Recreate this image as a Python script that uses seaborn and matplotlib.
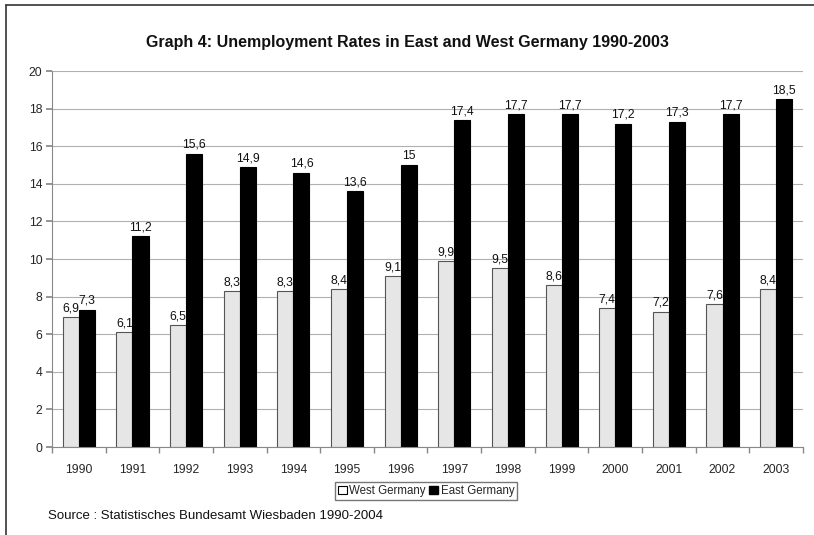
import matplotlib
matplotlib.use("Agg")
import matplotlib.pyplot as plt
from matplotlib.lines import Line2D
from matplotlib.patches import Patch
import seaborn as sns
import pandas as pd

years = ["1990", "1991", "1992", "1993", "1994", "1995", "1996",
         "1997", "1998", "1999", "2000", "2001", "2002", "2003"]
west = [6.9, 6.1, 6.5, 8.3, 8.3, 8.4, 9.1, 9.9, 9.5, 8.6, 7.4, 7.2, 7.6, 8.4]
east = [7.3, 11.2, 15.6, 14.9, 14.6, 13.6, 15, 17.4, 17.7, 17.7, 17.2, 17.3, 17.7, 18.5]
series = ["West Germany", "East Germany"]

df = pd.DataFrame({
    "year": years * 2,
    "rate": west + east,
    "region": [series[0]] * len(years) + [series[1]] * len(years),
})

sns.set_theme(style="white")
plt.rcParams["font.family"] = ["Liberation Sans", "DejaVu Sans"]

fig = plt.figure(figsize=(8.14, 5.35), dpi=100)
ax = fig.add_axes([52 / 814, 1 - 447 / 535, (803 - 52) / 814, (447 - 71) / 535])

colors = {series[0]: "#e6e6e6", series[1]: "#000000"}
sns.barplot(data=df, x="year", y="rate", hue="region", palette=colors,
            width=0.6, ax=ax, legend=False, saturation=1)

for cont, edge in zip(ax.containers, ["#555555", "#000000"]):
    for bar in cont:
        bar.set_edgecolor(edge)
        bar.set_linewidth(0.8)
    ax.bar_label(cont, labels=[f"{v:g}".replace(".", ",") for v in cont.datavalues],
                 padding=2, fontsize=8.7, color="#111111")

ax.set_ylim(0, 20)
ax.set_yticks(range(0, 21, 2))
ax.set_xlim(-0.5, len(years) - 0.5)
ax.yaxis.grid(True, color="#b0b0b0", linewidth=0.8)
ax.set_axisbelow(True)
for s in ["top", "right"]:
    ax.spines[s].set_visible(False)
for s in ["left", "bottom"]:
    ax.spines[s].set_color("#888888")
    ax.spines[s].set_linewidth(0.8)
ax.set_xlabel("")
ax.set_ylabel("")
ax.tick_params(axis="y", left=True, length=4, color="#888888", labelsize=8.7, pad=3)
ax.tick_params(axis="x", bottom=False, labelsize=8.7, pad=6)
ax.set_xticks([i + 0.5 for i in range(-1, len(years))], minor=True)
ax.tick_params(axis="x", which="minor", bottom=True, length=4, color="#888888")

fig.text(0.5, 1 - 42 / 535, "Graph 4: Unemployment Rates in East and West Germany 1990-2003",
         ha="center", va="center", fontsize=11.5, fontweight="bold", color="#111111")

handles = [Patch(facecolor="#ffffff", edgecolor="#000000", linewidth=0.8, label=series[0]),
           Patch(facecolor="#000000", edgecolor="#000000", label=series[1])]
fig.legend(handles=handles, loc="center", bbox_to_anchor=(426 / 814, 1 - 491 / 535),
           ncol=2, fontsize=8.3, frameon=True, fancybox=False, edgecolor="#555555",
           handlelength=0.8, handleheight=0.8, handletextpad=0.2, columnspacing=0.3,
           borderpad=0.25, borderaxespad=0)

fig.text(48 / 814, 1 - 516 / 535, "Source : Statistisches Bundesamt Wiesbaden 1990-2004",
         ha="left", va="center", fontsize=9.5, color="#111111")

fig.add_artist(Line2D([6 / 814, 1], [1 - 5 / 535, 1 - 5 / 535], color="#333333", linewidth=1.2))
fig.add_artist(Line2D([6 / 814, 6 / 814], [0, 1 - 5 / 535], color="#333333", linewidth=1.2))

fig.savefig("out.png", dpi=100)
